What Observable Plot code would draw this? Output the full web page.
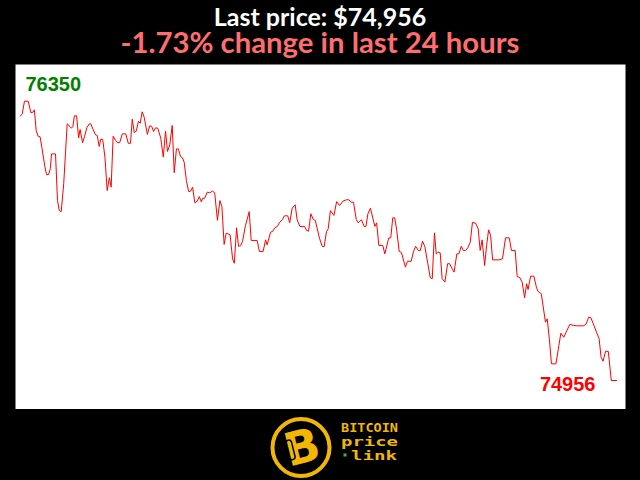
<!DOCTYPE html>
<html>
<head>
<meta charset="utf-8">
<script src="https://cdn.jsdelivr.net/npm/d3@7"></script>
<script src="https://cdn.jsdelivr.net/npm/@observablehq/plot@0.6"></script>
<style>
  html, body { margin: 0; padding: 0; background: #000; width: 640px; height: 480px; overflow: hidden; }
  #header { position: relative; width: 640px; height: 64px; }
  .t { position: absolute; left: 0; width: 640px; text-align: center; font-family: Lato, "Open Sans", sans-serif; font-weight: bold; white-space: nowrap; }
  #title { top: 3.5px; font-size: 25px; line-height: 24px; color: #ffffff; }
  #subtitle { top: 28px; font-size: 29.3px; line-height: 28px; color: #ff6e6e; }
  #chart svg { display: block; }
  #logo { display: block; }
</style>
</head>
<body>
<div id="header">
  <div class="t" id="title"></div>
  <div class="t" id="subtitle"></div>
</div>
<div id="chart"></div>
<svg id="logo" width="640" height="71" viewBox="0 0 640 71">
  <rect width="640" height="71" fill="#000"/>
  <circle cx="301" cy="38.5" r="28.5" fill="#000" stroke="#f2b705" stroke-width="4"/>
  <text x="302" y="54" text-anchor="middle" transform="rotate(-14 302 38)" font-family="DejaVu Sans" font-weight="bold" font-size="46" fill="#f2b705">B</text>
  <rect x="287" y="28" width="6" height="20" rx="3" transform="rotate(-14 302 38)" fill="none" stroke="#000" stroke-width="1.5"/>
  <text x="341" y="23.3" font-family="DejaVu Sans Mono" font-weight="bold" font-size="11.5" fill="#f2b705" textLength="57" lengthAdjust="spacingAndGlyphs">BITCOIN</text>
  <text x="341" y="37.2" font-family="DejaVu Sans Mono" font-weight="bold" font-size="12" fill="#f2b705" textLength="57" lengthAdjust="spacingAndGlyphs">price</text>
  <rect x="343.5" y="44.5" width="3" height="3" fill="#3cb43c"/>
  <text x="351" y="50.8" font-family="DejaVu Sans Mono" font-weight="bold" font-size="12" fill="#f2b705" textLength="46" lengthAdjust="spacingAndGlyphs">link</text>
</svg>
<script>
// Hours since start of the 24-hour window
const hours = [0, 0.07, 0.16, 0.31, 0.42, 0.50, 0.56, 0.63, 0.71, 0.79, 0.87, 0.98, 1.05, 1.13, 1.20, 1.25, 1.41, 1.49, 1.56, 1.64, 1.74, 1.88, 1.99, 2.05, 2.11, 2.17, 2.26, 2.34, 2.40, 2.50, 2.58, 2.67, 2.77, 2.83, 2.93, 3.02, 3.09, 3.17, 3.23, 3.31, 3.40, 3.49, 3.58, 3.65, 3.73, 3.83, 3.91, 4.00, 4.10, 4.24, 4.34, 4.43, 4.50, 4.58, 4.66, 4.75, 4.82, 4.90, 4.98, 5.11, 5.20, 5.28, 5.36, 5.44, 5.53, 5.65, 5.75, 5.84, 5.92, 6.01, 6.11, 6.19, 6.28, 6.36, 6.44, 6.52, 6.59, 6.68, 6.77, 6.85, 6.93, 7.02, 7.12, 7.20, 7.28, 7.34, 7.42, 7.52, 7.62, 7.73, 7.82, 7.93, 8.03, 8.11, 8.20, 8.28, 8.36, 8.44, 8.54, 8.61, 8.70, 8.78, 8.86, 8.94, 9.06, 9.21, 9.29, 9.53, 9.62, 9.77, 9.87, 9.93, 10.07, 10.16, 10.24, 10.34, 10.44, 10.54, 10.63, 10.76, 10.84, 10.94, 11.06, 11.14, 11.25, 11.44, 11.52, 11.60, 11.69, 11.79, 11.87, 11.95, 12.04, 12.15, 12.23, 12.32, 12.39, 12.48, 12.62, 12.73, 12.85, 12.98, 13.12, 13.22, 13.30, 13.41, 13.52, 13.60, 13.73, 13.84, 13.91, 13.99, 14.09, 14.27, 14.34, 14.43, 14.59, 14.67, 14.83, 14.91, 14.99, 15.07, 15.15, 15.25, 15.34, 15.50, 15.58, 15.73, 15.83, 15.91, 16.02, 16.10, 16.19, 16.28, 16.40, 16.50, 16.58, 16.67, 16.74, 16.82, 16.90, 16.98, 17.09, 17.20, 17.28, 17.38, 17.46, 17.57, 17.65, 17.75, 17.83, 17.92, 18.01, 18.11, 18.20, 18.33, 18.43, 18.51, 18.59, 18.69, 18.77, 18.85, 18.93, 19.01, 19.26, 19.41, 19.53, 19.68, 19.77, 19.92, 20.00, 20.11, 20.20, 20.30, 20.38, 20.44, 20.54, 20.67, 20.77, 20.83, 20.97, 21.14, 21.21, 21.30, 21.38, 21.56, 21.68, 21.76, 21.88, 21.99, 22.12, 22.27, 22.40, 22.68, 22.78, 22.88, 22.97, 23.09, 23.22, 23.30, 23.38, 23.46, 23.56, 23.67, 23.79, 24.00];
// BTC price (USD)
const prices = [76276, 76287, 76350, 76350, 76292, 76295, 76307, 76204, 76175, 76172, 76112, 76024, 75983, 75984, 76013, 76087, 76087, 75854, 75804, 75799, 75938, 76237, 76224, 76215, 76224, 76277, 76277, 76167, 76209, 76142, 76175, 76217, 76237, 76237, 76207, 76182, 76179, 76124, 76160, 76160, 76071, 75904, 75968, 75921, 76175, 76154, 76142, 76145, 76187, 76187, 76140, 76140, 76260, 76194, 76200, 76250, 76240, 76297, 76270, 76184, 76227, 76225, 76199, 76217, 76215, 76165, 76071, 76200, 76099, 76132, 76229, 75993, 76112, 76112, 76074, 76068, 76046, 75954, 75899, 75901, 75921, 75843, 75851, 75874, 75848, 75866, 75866, 75896, 75893, 75901, 75893, 75755, 75854, 75824, 75635, 75691, 75688, 75683, 75563, 75541, 75718, 75626, 75628, 75650, 75730, 75799, 75655, 75655, 75600, 75600, 75658, 75633, 75696, 75701, 75718, 75725, 75746, 75758, 75778, 75778, 75743, 75816, 75833, 75758, 75725, 75725, 75705, 75701, 75788, 75760, 75755, 75713, 75666, 75625, 75625, 75698, 75713, 75804, 75780, 75849, 75829, 75851, 75858, 75858, 75846, 75846, 75760, 75743, 75758, 75725, 75725, 75788, 75816, 75725, 75743, 75630, 75630, 75588, 75668, 75668, 75768, 75768, 75705, 75600, 75595, 75522, 75551, 75551, 75601, 75626, 75605, 75605, 75651, 75625, 75541, 75469, 75464, 75693, 75588, 75596, 75593, 75464, 75447, 75539, 75539, 75514, 75497, 75588, 75588, 75626, 75605, 75605, 75618, 75646, 75745, 75741, 75713, 75605, 75658, 75530, 75630, 75708, 75680, 75558, 75558, 75563, 75668, 75668, 75605, 75605, 75475, 75469, 75447, 75369, 75439, 75410, 75477, 75477, 75425, 75402, 75389, 75247, 75264, 75159, 75039, 75039, 75131, 75192, 75172, 75202, 75236, 75231, 75229, 75229, 75239, 75272, 75269, 75231, 75189, 75164, 75072, 75052, 75102, 75101, 74956, 74956];
const changePct = [-1.73];

const data = hours.map((h, i) => ({hour: h, price: prices[i]}));
const lastPrice = prices[prices.length - 1];
const highPrice = d3.max(prices);
const lowPrice = d3.min(prices);

document.getElementById("title").textContent = "Last price: $" + d3.format(",")(lastPrice);
document.getElementById("subtitle").textContent = changePct[0].toFixed(2) + "% change in last 24 hours";

const chart = Plot.plot({
  width: 640,
  height: 345,
  marginLeft: 15,
  marginRight: 15,
  marginTop: 0,
  marginBottom: 0,
  style: {background: "#000"},
  x: {domain: [0, 24], axis: null, insetLeft: 5, insetRight: 9},
  y: {domain: [lowPrice, highPrice], axis: null, insetTop: 36.7, insetBottom: 29},
  marks: [
    Plot.frame({fill: "#ffffff", stroke: "none"}),
    Plot.line(data, {x: "hour", y: "price", stroke: "#ff0000", strokeWidth: 1}),
    Plot.text([highPrice], {
      text: d => String(d), frameAnchor: "top-left", dx: 10, dy: 26,
      lineAnchor: "bottom", textAnchor: "start",
      fill: "#008000", fontSize: 20, fontWeight: "bold", fontFamily: "Liberation Sans"
    }),
    Plot.text([lastPrice], {
      text: d => String(d), frameAnchor: "bottom-right", dx: -30, dy: -18.5,
      lineAnchor: "bottom", textAnchor: "end",
      fill: "#ff0000", fontSize: 20, fontWeight: "bold", fontFamily: "Liberation Sans"
    })
  ]
});
document.getElementById("chart").appendChild(chart);
</script>
</body>
</html>
